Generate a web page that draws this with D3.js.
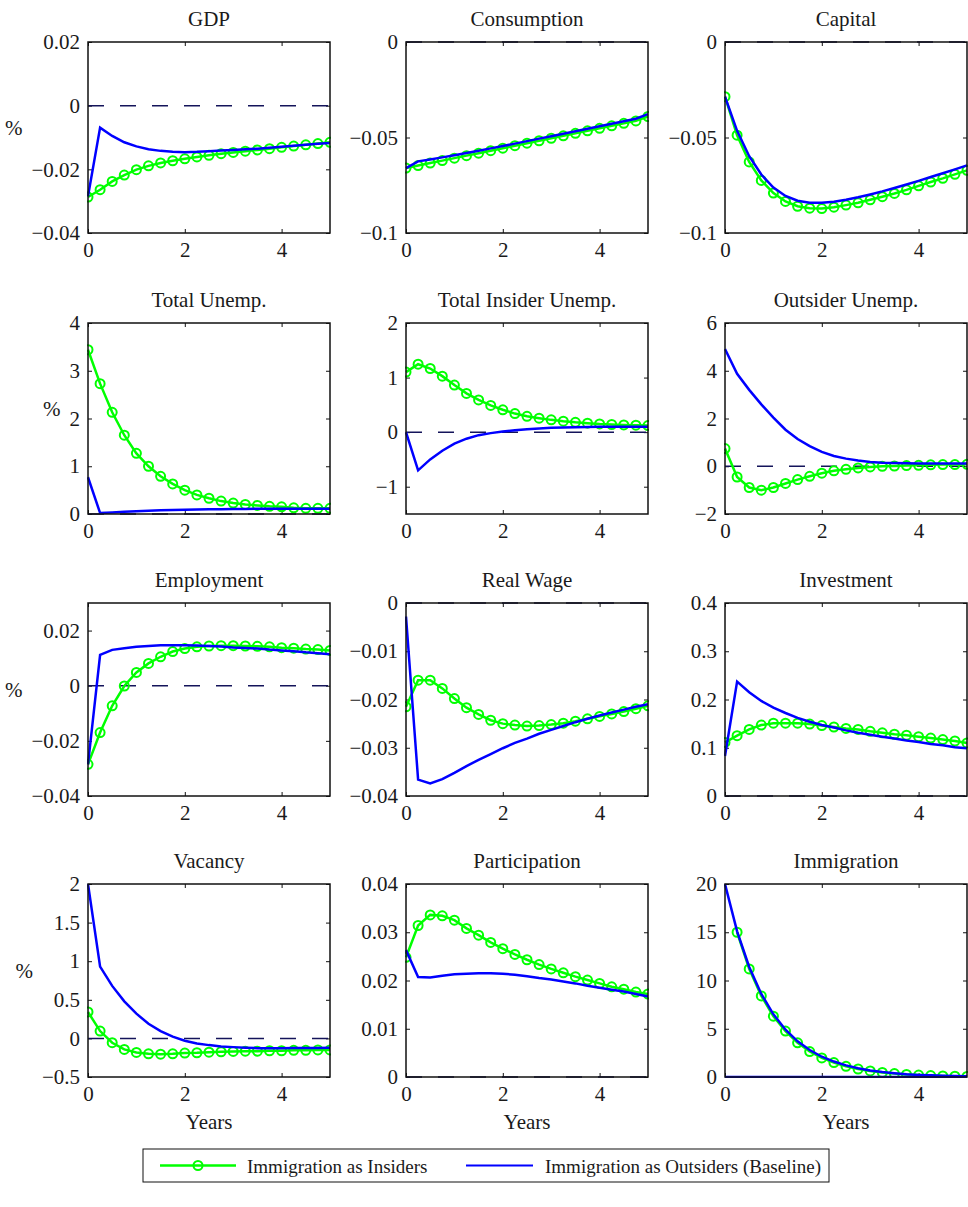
<!DOCTYPE html>
<meta charset="utf-8">
<head>
<title>Immigration impulse responses</title>
<style>
  body { margin: 0; background: #fff; }
  text { font-family: "Liberation Serif", "Times New Roman", serif; fill: #1a1a1a; }
</style>
</head>
<body>
<div id="chart"></div>
<script src="https://d3js.org/d3.v7.min.js"></script>
<script>

// quarterly horizon, in years
var years = [0, 0.25, 0.5, 0.75, 1, 1.25, 1.5, 1.75, 2, 2.25, 2.5, 2.75, 3, 3.25, 3.5, 3.75, 4, 4.25, 4.5, 4.75, 5];
var xTicks = [0, 2, 4];

// "Ins" = immigration as insiders (green), "Out" = immigration as outsiders, baseline (blue)
var gdpIns = [-0.0287, -0.0264, -0.0238, -0.0218, -0.0201, -0.0189, -0.0180, -0.0173, -0.0167, -0.0161, -0.0156, -0.0151, -0.0147, -0.0143, -0.0139, -0.0135, -0.0131, -0.0127, -0.0123, -0.0119, -0.0115];
var gdpOut = [-0.0285, -0.0069, -0.0095, -0.0115, -0.0128, -0.0137, -0.0142, -0.0145, -0.0146, -0.0145, -0.0143, -0.0141, -0.0139, -0.0137, -0.0135, -0.0132, -0.0129, -0.0126, -0.0123, -0.0120, -0.0117];

var consIns = [-0.0660, -0.0647, -0.0634, -0.0621, -0.0608, -0.0595, -0.0582, -0.0569, -0.0556, -0.0543, -0.0530, -0.0517, -0.0504, -0.0491, -0.0478, -0.0465, -0.0452, -0.0439, -0.0426, -0.0413, -0.0390];
var consOut = [-0.0660, -0.0625, -0.0615, -0.0604, -0.0593, -0.0581, -0.0569, -0.0557, -0.0545, -0.0532, -0.0519, -0.0506, -0.0493, -0.0480, -0.0467, -0.0454, -0.0441, -0.0428, -0.0415, -0.0402, -0.0378];

var capIns = [-0.0286, -0.0488, -0.0628, -0.0725, -0.0791, -0.0835, -0.0860, -0.0870, -0.0872, -0.0865, -0.0854, -0.0842, -0.0826, -0.0810, -0.0793, -0.0774, -0.0753, -0.0733, -0.0714, -0.0693, -0.0672];
var capOut = [-0.0286, -0.0465, -0.0598, -0.0694, -0.0762, -0.0806, -0.0831, -0.0841, -0.0841, -0.0836, -0.0826, -0.0813, -0.0798, -0.0782, -0.0764, -0.0746, -0.0727, -0.0707, -0.0687, -0.0667, -0.0646];

var unempIns = [3.44, 2.73, 2.13, 1.65, 1.27, 1.00, 0.79, 0.63, 0.50, 0.40, 0.33, 0.27, 0.23, 0.20, 0.18, 0.16, 0.15, 0.13, 0.12, 0.12, 0.12];
var unempOut = [0.77, 0.02, 0.03, 0.045, 0.06, 0.07, 0.08, 0.085, 0.09, 0.095, 0.10, 0.10, 0.105, 0.105, 0.11, 0.11, 0.11, 0.11, 0.11, 0.11, 0.11];

var insIns = [1.10, 1.245, 1.166, 1.026, 0.862, 0.71, 0.59, 0.49, 0.41, 0.34, 0.29, 0.255, 0.225, 0.20, 0.18, 0.165, 0.15, 0.14, 0.133, 0.127, 0.12];
var insOut = [0, -0.70, -0.50, -0.34, -0.21, -0.12, -0.055, -0.018, 0.012, 0.036, 0.055, 0.067, 0.079, 0.085, 0.09, 0.095, 0.10, 0.10, 0.10, 0.10, 0.10];

var outIns = [0.74, -0.45, -0.89, -1.00, -0.89, -0.72, -0.56, -0.42, -0.29, -0.19, -0.13, -0.07, -0.03, 0.0, 0.01, 0.03, 0.04, 0.06, 0.07, 0.07, 0.08];
var outOut = [4.91, 3.87, 3.20, 2.59, 2.04, 1.53, 1.14, 0.84, 0.60, 0.43, 0.32, 0.24, 0.18, 0.15, 0.14, 0.13, 0.12, 0.12, 0.12, 0.12, 0.12];

var empIns = [-0.0285, -0.0170, -0.0073, -0.0001, 0.0048, 0.0081, 0.0105, 0.0124, 0.0135, 0.0141, 0.0144, 0.0145, 0.0145, 0.0144, 0.0143, 0.0141, 0.0138, 0.0136, 0.0133, 0.0131, 0.0128];
var empOut = [-0.0285, 0.0112, 0.0130, 0.0136, 0.0141, 0.0144, 0.0147, 0.0147, 0.0147, 0.0146, 0.0144, 0.0142, 0.0139, 0.0137, 0.0135, 0.0131, 0.0128, 0.0125, 0.0121, 0.0118, 0.0114];

var wageIns = [-0.0215, -0.0160, -0.0160, -0.0177, -0.0198, -0.0217, -0.0231, -0.0243, -0.0250, -0.0253, -0.0255, -0.0254, -0.0252, -0.0249, -0.0245, -0.0240, -0.0235, -0.0230, -0.0225, -0.0219, -0.0213];
var wageOut = [-0.0028, -0.0366, -0.0374, -0.0365, -0.0352, -0.0338, -0.0325, -0.0313, -0.0301, -0.0290, -0.0281, -0.0271, -0.0263, -0.0255, -0.0247, -0.0240, -0.0233, -0.0227, -0.0221, -0.0215, -0.0210];

var invIns = [0.111, 0.125, 0.138, 0.147, 0.151, 0.151, 0.151, 0.149, 0.146, 0.143, 0.140, 0.138, 0.134, 0.131, 0.128, 0.126, 0.123, 0.120, 0.117, 0.114, 0.110];
var invOut = [0.083, 0.237, 0.215, 0.197, 0.183, 0.172, 0.162, 0.154, 0.147, 0.142, 0.136, 0.131, 0.127, 0.123, 0.119, 0.115, 0.112, 0.108, 0.105, 0.101, 0.099];

var vacIns = [0.342, 0.095, -0.056, -0.143, -0.182, -0.200, -0.204, -0.200, -0.190, -0.186, -0.178, -0.173, -0.169, -0.165, -0.165, -0.160, -0.160, -0.155, -0.155, -0.150, -0.150];
var vacOut = [2.00, 0.93, 0.68, 0.48, 0.32, 0.19, 0.095, 0.022, -0.03, -0.065, -0.087, -0.104, -0.113, -0.120, -0.126, -0.126, -0.126, -0.125, -0.124, -0.123, -0.122];

var partIns = [0.0248, 0.0314, 0.0336, 0.0334, 0.0325, 0.0308, 0.0294, 0.0279, 0.0266, 0.0254, 0.0243, 0.0233, 0.0224, 0.0216, 0.0208, 0.0201, 0.0194, 0.0187, 0.0182, 0.0176, 0.0172];
var partOut = [0.0263, 0.0207, 0.0206, 0.0210, 0.0213, 0.0214, 0.0215, 0.0215, 0.0214, 0.0212, 0.0209, 0.0205, 0.0202, 0.0198, 0.0194, 0.0189, 0.0185, 0.0181, 0.0177, 0.0172, 0.0167];

var immIns = [null, 15.0, 11.2, 8.4, 6.3, 4.76, 3.54, 2.64, 1.98, 1.49, 1.11, 0.83, 0.63, 0.47, 0.35, 0.26, 0.20, 0.15, 0.11, 0.08, 0.06];
var immOut = [20.0, 15.1, 11.4, 8.6, 6.5, 4.9, 3.7, 2.8, 2.1, 1.6, 1.2, 0.9, 0.68, 0.51, 0.39, 0.29, 0.22, 0.17, 0.13, 0.10, 0.07];
var immOutInsiders = [0, 0, 0, 0, 0, 0, 0, 0, 0, 0, 0, 0, 0, 0, 0, 0, 0, 0, 0, 0, 0];

var titles = ["GDP", "Consumption", "Capital", "Total Unemp.", "Total Insider Unemp.", "Outsider Unemp.",
              "Employment", "Real Wage", "Investment", "Vacancy", "Participation", "Immigration"];
var yDomains = [[-0.04, 0.02], [-0.1, 0], [-0.1, 0], [0, 4], [-1.5, 2], [-2, 6],
                [-0.04, 0.03], [-0.04, 0], [0, 0.4], [-0.5, 2], [0, 0.04], [0, 20]];
var yTicks = [[-0.04, -0.02, 0, 0.02], [-0.1, -0.05, 0], [-0.1, -0.05, 0], [0, 1, 2, 3, 4],
              [-1, 0, 1, 2], [-2, 0, 2, 4, 6], [-0.04, -0.02, 0, 0.02], [-0.04, -0.03, -0.02, -0.01, 0],
              [0, 0.1, 0.2, 0.3, 0.4], [-0.5, 0, 0.5, 1, 1.5, 2], [0, 0.01, 0.02, 0.03, 0.04], [0, 5, 10, 15, 20]];
var insSeries = [gdpIns, consIns, capIns, unempIns, insIns, outIns, empIns, wageIns, invIns, vacIns, partIns, immIns];
var outSeries = [gdpOut, consOut, capOut, unempOut, insOut, outOut, empOut, wageOut, invOut, vacOut, partOut, immOut];
var legendLabels = ["Immigration as Insiders", "Immigration as Outsiders (Baseline)"];

var width = 968, height = 1207;
var colLeft = [88, 406, 725],
    plotW = 242;
var rowTop = [42, 323, 603, 884],
    rowH = [191, 191, 193, 193];
var fontSize = 21;
var serif = "Liberation Serif";
var green = "#00ff00", blue = "#0000ff", zeroColor = "#14145a";

var svg = d3.select("#chart")
  .append("svg")
    .attr("width", width)
    .attr("height", height)
    .attr("font-family", serif);

function fmt(v) { return String(v).replace("-", "\u2212"); }

titles.forEach(function(title, i) {
  var row = Math.floor(i / 3), col = i % 3;
  var h = rowH[row];
  var g = svg.append("g")
    .attr("transform", "translate(" + colLeft[col] + "," + rowTop[row] + ")");

  var x = d3.scaleLinear().domain([0, 5]).range([0, plotW]);
  var y = d3.scaleLinear().domain(yDomains[i]).range([h, 0]);

  g.append("clipPath").attr("id", "clip" + i)
    .append("rect").attr("x", -1).attr("y", -1).attr("width", plotW + 2).attr("height", h + 2);

  // axes with inward ticks on all four sides
  var yAxis = g.append("g")
    .call(d3.axisLeft(y).tickValues(yTicks[i]).tickFormat(fmt).tickSizeInner(-4).tickSizeOuter(0).tickPadding(8));
  g.append("g").attr("transform", "translate(" + plotW + ",0)")
    .call(d3.axisRight(y).tickValues(yTicks[i]).tickFormat("").tickSizeInner(-4).tickSizeOuter(0));
  g.append("g").attr("transform", "translate(0," + h + ")")
    .call(d3.axisBottom(x).tickValues(xTicks).tickFormat(fmt).tickSizeInner(-4).tickSizeOuter(0).tickPadding(9));
  g.append("g")
    .call(d3.axisTop(x).tickValues(xTicks).tickFormat("").tickSizeInner(-4).tickSizeOuter(0));
  g.selectAll(".domain").remove();
  g.selectAll("g").attr("font-family", serif).attr("font-size", fontSize);
  g.selectAll(".tick line").attr("stroke", "#111").attr("stroke-width", 1);
  g.selectAll(".tick text")
    .attr("font-family", serif)
    .style("font-family", serif)
    .style("font-size", fontSize + "px")
    .attr("fill", "#1a1a1a");

  var plot = g.append("g").attr("clip-path", "url(#clip" + i + ")");

  // zero reference line
  var yd = yDomains[i];
  if (yd[0] <= 0 && yd[1] >= 0) {
    plot.append("line")
      .attr("x1", 0).attr("x2", plotW)
      .attr("y1", y(0)).attr("y2", y(0))
      .attr("stroke", zeroColor)
      .attr("stroke-width", 1.5)
      .attr("stroke-dasharray", "16,16");
  }

  var line = d3.line()
    .defined(function(d) { return d[1] !== null; })
    .x(function(d) { return x(d[0]); })
    .y(function(d) { return y(d[1]); });

  var ins = years.map(function(t, k) { return [t, insSeries[i][k]]; });
  var out = years.map(function(t, k) { return [t, outSeries[i][k]]; });

  plot.append("path")
    .datum(ins)
    .attr("fill", "none")
    .attr("stroke", green)
    .attr("stroke-width", 2.5)
    .attr("d", line);

  plot.selectAll("circle.m")
    .data(ins.filter(function(d) { return d[1] !== null; }))
    .enter().append("circle")
      .attr("class", "m")
      .attr("cx", function(d) { return x(d[0]); })
      .attr("cy", function(d) { return y(d[1]); })
      .attr("r", 4.5)
      .attr("fill", "none")
      .attr("stroke", green)
      .attr("stroke-width", 2);

  if (title == "Immigration") {
    plot.append("path")
      .datum(years.map(function(t, k) { return [t, immOutInsiders[k]]; }))
      .attr("fill", "none")
      .attr("stroke", blue)
      .attr("stroke-width", 2.5)
      .attr("d", line);
  }

  plot.append("path")
    .datum(out)
    .attr("fill", "none")
    .attr("stroke", blue)
    .attr("stroke-width", 2.5)
    .attr("d", line);

  // frame
  g.append("rect")
    .attr("width", plotW).attr("height", h)
    .attr("fill", "none")
    .attr("stroke", "#111")
    .attr("stroke-width", 1.5);

  g.append("text")
    .attr("x", plotW / 2)
    .attr("y", -16)
    .attr("text-anchor", "middle")
    .style("font-size", fontSize + "px")
    .text(title);

  if (col == 0) {
    var maxW = 0;
    yAxis.selectAll(".tick text").each(function() {
      maxW = Math.max(maxW, this.getComputedTextLength());
    });
    g.append("text")
      .attr("x", -8 - maxW - 9)
      .attr("y", h / 2 - 3)
      .attr("text-anchor", "end")
      .style("font-size", fontSize + "px")
      .text("%");
  }

  if (row == 3) {
    g.append("text")
      .attr("x", plotW / 2)
      .attr("y", h + 52)
      .attr("text-anchor", "middle")
      .style("font-size", fontSize + "px")
      .text("Years");
  }
});

// legend
var leg = svg.append("g").attr("transform", "translate(143,1149)");
leg.append("rect")
  .attr("width", 686).attr("height", 33)
  .attr("fill", "#fff")
  .attr("stroke", "#111")
  .attr("stroke-width", 1);

leg.append("line")
  .attr("x1", 17).attr("x2", 93).attr("y1", 16.5).attr("y2", 16.5)
  .attr("stroke", green).attr("stroke-width", 2.5);
leg.append("circle")
  .attr("cx", 55).attr("cy", 16.5).attr("r", 4.5)
  .attr("fill", "none").attr("stroke", green).attr("stroke-width", 2);
leg.append("text")
  .attr("x", 104).attr("y", 23.5)
  .style("font-size", "19px")
  .text(legendLabels[0]);

leg.append("line")
  .attr("x1", 323).attr("x2", 390).attr("y1", 16.5).attr("y2", 16.5)
  .attr("stroke", blue).attr("stroke-width", 2);
leg.append("text")
  .attr("x", 402).attr("y", 23.5)
  .style("font-size", "19px")
  .text(legendLabels[1]);

</script>
</body>
